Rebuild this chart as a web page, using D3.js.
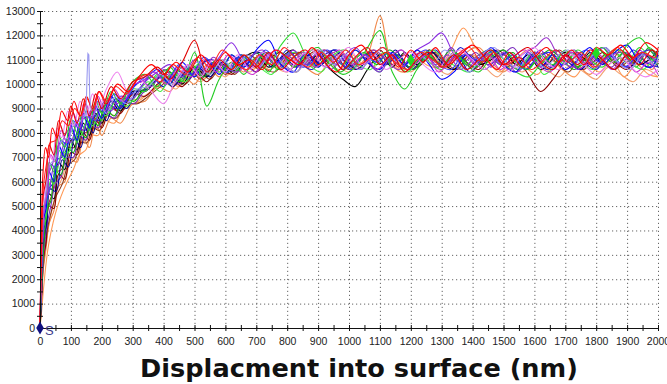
<!DOCTYPE html>
<meta charset="utf-8">
<style>
body { margin: 0; background: #fff; }
.axis path, .axis line { stroke: #111; }
.yaxis text { font: 10.5px "Liberation Sans", Arial, sans-serif; fill: #222; }
.xaxis text { font: 10.5px "Liberation Sans", Arial, sans-serif; fill: #222; }
.grid line { stroke: #666; stroke-dasharray: 1.2,2.8; }
.curve { fill: none; stroke-width: 1.1; }
.xtitle { font-family: "DejaVu Sans", Verdana, sans-serif; font-weight: bold; fill: #111; }
</style>
<svg width="667" height="384"></svg>
<script src="https://d3js.org/d3.v7.min.js"></script>
<script>

// depth (nm) grids; the indents were sampled at slightly shifted depths
var depthA = [0,5,10,20,30,45,60,80,100,120,140,160,180,200,230,260,300,
  340,380,420,460,500,540,580,620,660,700,740,780,820,860,900,940,980,1020,1060,1100,
  1140,1180,1220,1260,1300,1340,1380,1420,1460,1500,1540,1580,1620,1660,1700,1740,1780,
  1820,1860,1900,1940,1980,2000];
var depthB = [0,4,9,18,28,40,55,70,90,110,130,150,170,190,215,250,285,
  320,360,400,440,480,520,560,600,640,680,720,760,800,840,880,920,960,1000,1040,1080,
  1120,1160,1200,1240,1280,1320,1360,1400,1440,1480,1520,1560,1600,1640,1680,1720,1760,
  1800,1840,1880,1920,1960,2000];
var depthC = [0,6,12,24,35,50,68,88,108,128,148,168,188,210,240,270,305,
  330,370,410,450,490,530,570,610,650,690,730,770,810,850,890,930,970,1010,1050,1090,
  1130,1170,1210,1250,1290,1330,1370,1410,1450,1490,1530,1570,1610,1650,1690,1730,1770,
  1810,1850,1890,1930,1970,2000];
var depthD = [0,5,11,22,33,52,72,92,112,132,152,172,192,215,245,280,315,
  350,390,430,470,510,550,590,630,670,710,750,790,830,870,910,950,990,1030,1070,1110,
  1150,1190,1230,1270,1310,1350,1390,1430,1470,1510,1550,1590,1630,1670,1710,1750,1790,
  1830,1870,1910,1950,1990,2000];

// one array per indent test
var test01 = [0,3500,6200,7400,7000,8200,7800,8900,8500,9300,8700,9500,9000,9700,9200,10000,9700,
  10300,10800,10400,10900,10500,11200,10700,11300,10800,11000,10600,11400,11100,10800,11500,10900,10500,11200,11600,11000,11300,10700,11400,10900,11500,10800,11200,11600,11100,10600,11300,10700,11100,11500,10900,11400,10800,11500,11200,11600,11100,11700,11400];
var test02 = [0,2700,4900,5300,6800,6400,7900,7400,8600,8000,9000,8400,9300,8800,9700,9200,10100,
  10400,9900,10700,10100,11300,9100,10200,10900,10400,11100,10500,11300,10700,11200,11500,10800,10400,10700,11500,12200,10500,9800,10600,11200,10700,11300,10800,10500,11100,11400,10900,10600,11200,10800,11400,10700,11100,11500,10900,11600,11900,11300,11000];
var test03 = [0,2200,4400,4900,6400,6000,7500,7000,8300,7700,8800,8200,9100,8600,9500,9000,9900,
  10200,10600,10000,10900,10300,11000,10400,11200,10700,11400,11800,10800,10500,11300,10700,11200,10600,11400,10900,10600,11300,10800,11400,10800,10200,10500,11200,10900,11500,10800,10500,11300,10700,11200,10600,11000,11500,10800,11300,11600,10900,10700,11300];
var test04 = [0,2100,3800,5200,5600,6600,6700,7600,7600,8400,8100,8700,8500,9100,8900,9500,9400,
  10100,10500,10800,10300,11000,10500,11100,11700,10900,10500,11200,10700,11400,10800,11300,10600,11100,11500,10900,10500,11200,10800,11400,11700,12100,11200,10600,11100,10700,11300,10500,10900,11400,10700,11200,10600,11000,11500,11000,10700,11400,10900,11200];
var test05 = [0,1000,2300,3300,4300,4800,5800,6000,6900,6800,7800,7400,8400,7900,8600,8400,9200,
  9300,9900,9700,10400,10000,10800,10300,10900,10500,11100,10600,10900,11300,10700,10400,11000,11300,10700,11200,12800,10800,10500,11100,11400,10800,10600,11300,11500,10900,10500,11000,11400,10800,10600,11200,10800,10400,11000,11300,10700,11200,10600,11000];
var test06 = [0,1400,3400,3900,5500,5300,6800,6500,7700,7300,8400,7900,8800,8400,9300,8900,9700,
  9700,10200,10500,10000,10700,10300,10900,10500,11100,11300,10700,11100,11400,10800,11200,10600,10200,9900,10600,11200,10700,11300,10800,11400,10900,10600,11200,10800,11000,11400,10800,11200,10600,11000,11300,10700,11300,10900,10600,11200,10800,11100,11400];
var test07 = [0,1600,3000,4000,5100,5500,6400,6500,7400,7400,8200,8000,8700,8400,9200,8900,9500,
  9600,10100,10400,10000,10700,10200,10900,10400,11000,11200,10700,10500,11100,11300,10800,11400,11000,10600,11100,11400,10800,11200,10600,11000,11300,10700,11200,10600,11000,11400,11000,10700,11300,10800,11400,10900,10600,11200,10800,11400,10900,11200,10800];
var test08 = [0,3000,5100,5800,7200,6900,8200,7800,8900,8300,9300,8700,9600,9000,9800,10500,9700,
  10200,9700,9200,10200,10800,10300,11000,10500,11200,10600,11300,10900,10500,11100,11400,10700,11100,11500,10800,11200,10600,11000,11300,10800,10500,11100,11400,11000,10600,11100,10500,11200,11500,10900,10600,11200,10800,10400,10800,11100,10600,10300,10600];
var test09 = [0,2900,4600,5800,6700,7000,7700,7800,8400,8500,8800,8700,9200,8800,9500,9200,9800,
  9900,10400,10000,10600,10900,10400,11000,10600,11200,10700,11300,10800,10500,11100,11400,10800,11200,10600,11000,11500,10900,10600,11200,10800,11400,10900,10500,11200,11500,10900,10700,11300,10700,11100,11400,10800,11200,11500,10900,10600,11200,10800,11100];
var test10 = [0,3200,5400,6100,7500,7100,8500,7900,9100,8400,9400,8700,9600,9000,9900,9400,10100,
  10300,10700,10200,10900,11800,10500,11000,10600,11200,10700,11300,10600,11100,11400,10800,11200,10600,11100,11500,10800,11200,10500,11000,11300,10700,11200,10600,11000,11400,10800,11200,11500,10900,10600,11200,10800,11400,11000,10600,11200,10800,11400,11200];
var test11 = [0,2000,4100,4500,6100,5900,7300,6900,8200,7600,8700,8100,9100,8500,9500,9000,9800,
  9700,10400,10000,10700,10300,11000,10500,11200,10700,11300,10800,11600,12100,11200,10700,11200,10800,11400,10900,10500,11200,10800,11400,10900,10600,11300,10800,11200,11400,10800,10500,10300,10800,11200,10800,11400,11000,10700,11300,10900,11500,11000,10800];
var test12 = [0,1900,3600,4500,5700,5900,6900,7000,7800,7700,8400,8100,8900,8500,9200,9000,9500,
  9800,10300,9900,10600,10200,10800,11000,10500,11100,10700,11300,10800,11400,10900,10600,11200,11400,10700,11100,11300,10800,11200,10600,11000,11400,10800,11500,11000,10600,11100,11300,10800,11200,10600,11000,11300,10900,10600,11200,10800,11400,10900,10700];
var test13 = [0,2500,4300,5400,6300,6700,7400,7600,8100,8300,8600,8600,9000,8900,9400,9200,9700,
  10200,9900,10600,10200,10800,10400,11100,10700,10500,11100,11400,10800,11200,10700,11100,11400,10800,11200,10600,11400,11000,10600,11100,11300,10800,11200,10600,11000,11300,10900,10600,11200,11500,11900,11100,10700,11200,10700,11100,11300,10800,11200,10900];
var test14 = [0,800,1700,3100,3900,4700,5400,6000,6500,7100,7300,7900,7900,8500,8400,9000,9200,
  9400,9800,10200,9900,10500,10200,10800,10400,11000,10600,11200,10700,11100,10800,11300,10900,10600,11200,10800,11300,10900,10600,11200,10800,10700,11400,12300,11500,10900,10500,11100,10700,10400,11000,10600,10300,10900,10500,11000,10300,10800,10400,10300];
var test15 = [0,1200,2800,3500,5000,4900,6300,6100,7200,7100,8000,7700,8600,8200,9100,8800,9600,
  9500,10000,10300,9900,10500,10100,10700,10400,10900,10500,11000,11300,10700,11100,11400,10800,11200,10600,11000,11400,10800,11200,10700,11100,10800,11300,10900,10600,11200,10800,11100,10400,9700,10200,10900,11300,10800,11300,10900,10600,11200,11400,10900];
var test16 = [0,2800,4800,5600,7100,6800,8100,7600,8800,8200,9200,8600,9500,8900,9800,9300,10000,
  10100,10500,10000,10700,10300,11000,10500,11200,10700,10400,11100,11400,10800,11300,10700,11100,11400,10800,11200,10600,11100,11400,10800,11200,10500,11000,11300,10800,11200,10600,11100,11400,10800,10500,11100,11300,10800,11200,10600,11000,10500,10900,10400];
var test17 = [0,1700,3600,4300,5700,5600,6900,6600,7800,7400,8500,8000,9000,8500,9400,9000,9700,
  9800,10300,9900,10500,10700,10300,10900,10500,11000,11300,10700,11100,10700,11200,10800,11400,10900,10600,11200,10800,11400,10700,11000,11300,10800,11200,10500,11000,11400,10900,10600,11200,10800,11400,10900,10600,11200,11500,10900,10700,11200,10900,10700];
var test18 = [0,2300,4200,5000,6000,6300,7200,7200,7900,7900,8500,8300,8900,8700,9300,9100,9600,
  10100,9700,10500,10100,10800,10400,11000,10500,11100,10700,10400,11100,11300,10800,10500,11200,11400,10800,10600,11300,10900,10500,11100,11400,11000,10700,10500,11100,11300,10900,10600,11200,10400,10800,11300,10900,10600,11200,11400,10900,10600,11100,11300];
var test19 = [0,3300,5800,6800,7600,7700,8500,8300,9000,8700,9400,8900,9700,9300,9900,9600,10200,
  10400,10100,10800,10400,11100,10700,11400,10900,10600,11200,10800,11500,11000,10700,11300,10900,11400,10800,11100,11500,10900,10600,11300,11000,10700,11200,11500,10900,11300,10800,11100,10600,11000,11400,10900,11300,10700,11100,11500,11000,11300,11100,11500];
var test20 = [0,1900,3300,4900,5200,6400,6300,7400,7200,8100,7800,8600,8300,9000,8700,9400,9300,
  9700,10200,10600,10100,10800,10300,11000,10500,11200,10800,11300,10600,11000,11300,10700,11100,10500,10900,11300,10800,11400,11000,10600,11200,10900,11400,11000,10700,11200,10800,11300,10600,11000,11400,11000,10600,11100,11400,10900,11300,10700,11500,11100];
var test21 = [0,2600,4700,5400,6700,6600,7700,7500,8500,8100,8900,8500,9300,8800,9600,9200,9900,
  10200,10500,10100,10800,10400,11100,10700,10500,11200,10800,11400,10900,11300,10700,11000,11400,10900,10600,11200,10900,11300,10700,11100,11400,10800,10600,11200,11000,11400,10800,11200,10600,11100,11300,10800,11100,11400,10900,11200,10700,11100,11400,11000];
var test22 = [0,1600,3100,4300,5000,5900,6200,7000,7000,7900,7700,8400,8200,8800,8600,9300,9200,
  9600,10100,10400,10000,10700,10300,10900,10600,11100,10700,11300,10900,10600,11200,11000,10700,11300,10800,11100,10600,11000,11400,10900,11200,10700,11500,10900,11300,10800,11100,11500,10900,11300,10700,11100,11400,10800,11000,10700,11300,11000,10700,11000];
var test23 = [0,1100,2200,3400,4200,4900,5700,6100,6800,7000,7600,7700,8200,8200,8800,8700,9300,
  9400,9700,10100,9800,10400,10100,10600,10300,10800,10500,11000,10700,10500,11000,10700,11200,10800,10500,11100,10700,11300,10900,10500,11000,10700,10400,10900,11200,10700,10300,10800,10500,10900,10600,10300,10800,10500,10200,10700,10400,10100,10600,10300];
var test24 = [0,1400,2600,3900,4600,5400,5900,6700,6900,7600,7600,8200,8100,8700,8600,9200,9200,
  9500,9900,10300,10000,10600,10200,10800,10400,11000,10600,11200,10800,10500,11100,10800,11300,10700,11000,11300,10800,11100,10600,11000,11300,10900,10600,11200,10800,11300,10700,11100,10800,11300,10900,10500,11100,10800,11200,10700,11000,11300,10800,11200];

var tests = [test23, test14, test05, test24, test15, test07, test06, test22, test17, test12, test20,
  test11, test18, test04, test03, test21, test13, test02, test09, test16, test08, test10, test19, test01];
var testDepth = [depthB, depthC, depthA, depthD, depthA, depthB, depthA, depthC, depthD, depthB, depthC,
  depthA, depthD, depthA, depthA, depthC, depthB, depthA, depthD, depthC, depthB, depthA, depthD, depthB];
var colors = ["#f4a070", "#ff9955", "#f0884a", "#8b3a1a", "#8b0000", "#a52a2a", "#000000", "#7b2fbe", "#000090",
  "#1c1cd0", "#10b010", "#33dd33", "#44ee44", "#8a2be2", "#0000ff", "#3030ff", "#9932cc", "#22cc22",
  "#9a9af0", "#cc33cc", "#ee82ee", "#e00000", "#ff2020", "#ff0000"];

// narrow glitch on the lavender test
var spikeDepth = [140, 149, 152, 155, 158, 161, 166];
var spikeModulus = [8700, 8800, 10200, 11250, 11200, 9400, 8900];

// marker points
var markDepth = [0, 1200, 1800];
var markModulus = [0, 10980, 11270];
var markColor = ["#101080", "#22dd22", "#22dd22"];

var xTicks = [0,100,200,300,400,500,600,700,800,900,1000,1100,1200,1300,1400,1500,1600,1700,1800,1900,2000];
var xMinor = [50,150,250,350,450,550,650,750,850,950,1050,1150,1250,1350,1450,1550,1650,1750,1850,1950];
var yTicks = [0,1000,2000,3000,4000,5000,6000,7000,8000,9000,10000,11000,12000,13000];
var yMinor = [500,1500,2500,3500,4500,5500,6500,7500,8500,9500,10500,11500,12500];

var svg = d3.select("svg");

var x = d3.scaleLinear().domain([0, 2000]).range([40, 658]);
var y = d3.scaleLinear().domain([0, 13000]).range([328, 11]);

// grid
var grid = svg.append("g").attr("class", "grid");
grid.selectAll(".gy").data(yTicks.slice(1)).enter().append("line")
    .attr("x1", x(0)).attr("x2", x(2000))
    .attr("y1", function(d) { return y(d) + 0.5; }).attr("y2", function(d) { return y(d) + 0.5; });
grid.selectAll(".gx").data(xTicks.slice(1)).enter().append("line")
    .attr("y1", y(0)).attr("y2", y(13000))
    .attr("x1", function(d) { return x(d) + 0.5; }).attr("x2", function(d) { return x(d) + 0.5; });

// curves
svg.selectAll(".curve").data(tests).enter().append("path")
    .attr("class", "curve")
    .attr("d", function(values, k) {
      var dep = testDepth[k];
      return d3.line()
        .x(function(d, i) { return x(dep[i]); })
        .y(function(d) { return y(d); })
        .curve(d3.curveCatmullRom.alpha(0.5))(values);
    })
    .attr("stroke", function(d, i) { return colors[i]; });

var spikeLine = d3.line()
    .x(function(d, i) { return x(spikeDepth[i]); })
    .y(function(d) { return y(d); });
svg.append("path").attr("class", "curve")
    .attr("d", spikeLine(spikeModulus))
    .attr("stroke", "#9a9af0");

// axes
var yAxis = svg.append("g").attr("class", "axis yaxis")
    .attr("transform", "translate(40,0)")
    .call(d3.axisLeft(y).tickValues(yTicks).tickFormat(d3.format("d"))
      .tickSizeInner(3).tickSizeOuter(0).tickPadding(2));
yAxis.selectAll(".tick line").attr("x1", 3);
svg.append("g").attr("class", "axis")
    .attr("transform", "translate(40,0)")
    .call(d3.axisLeft(y).tickValues(yMinor).tickSize(3).tickFormat(""))
    .call(function(g) { g.select(".domain").remove(); })
    .selectAll(".tick line").attr("x1", 3);

var xAxis = svg.append("g").attr("class", "axis xaxis")
    .attr("transform", "translate(0,328)")
    .call(d3.axisBottom(x).tickValues(xTicks).tickFormat(d3.format("d"))
      .tickSizeInner(3).tickSizeOuter(0).tickPadding(7));
xAxis.selectAll(".tick line").attr("y1", -3);
svg.append("g").attr("class", "axis")
    .attr("transform", "translate(0,328)")
    .call(d3.axisBottom(x).tickValues(xMinor).tickSize(3).tickFormat(""))
    .call(function(g) { g.select(".domain").remove(); })
    .selectAll(".tick line").attr("y1", -3);

// markers
svg.selectAll(".mark").data(markDepth).enter().append("path")
    .attr("transform", function(d, i) { return "translate(" + x(d) + "," + y(markModulus[i]) + ")"; })
    .attr("d", d3.symbol(d3.symbolDiamond, 50))
    .attr("fill", function(d, i) { return markColor[i]; });

svg.append("text").attr("x", 45).attr("y", 335).text("S")
    .style("font", "13px 'Liberation Sans', Arial, sans-serif").style("fill", "#3a3a8a");

// x title
var title = svg.append("text").attr("class", "xtitle")
    .attr("x", 359).attr("y", 377).attr("text-anchor", "middle")
    .style("font-size", "24px")
    .text("Displacment into surface (nm)");
var w = title.node().getComputedTextLength();
title.style("font-size", (24 * 438 / w) + "px");

</script>
